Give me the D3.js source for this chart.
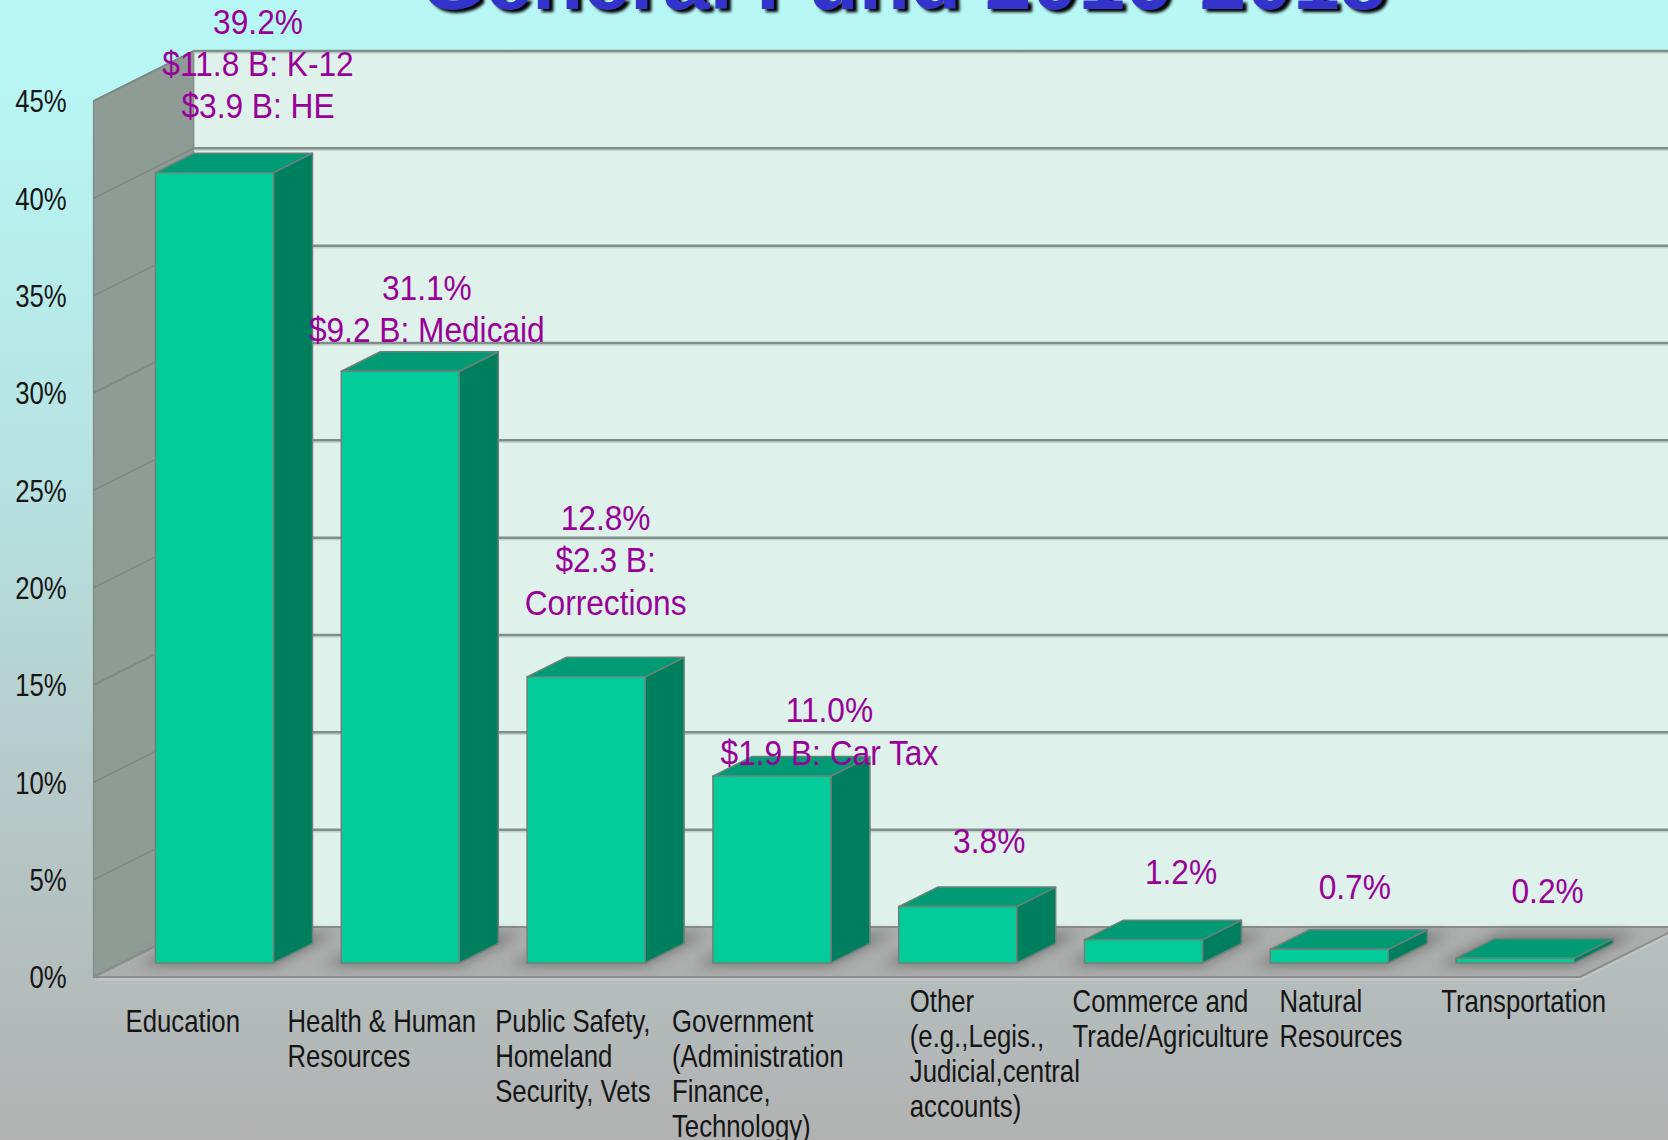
<!DOCTYPE html>
<html>
<head>
<meta charset="utf-8">
<script src="https://cdnjs.cloudflare.com/ajax/libs/d3/7.8.5/d3.min.js"></script>
<style>
  body { margin: 0; background: #b3b3b3; }
  svg { display: block; }
  .narrow { font-family: "Liberation Sans", Arial, sans-serif; }
</style>
</head>
<body>
<div id="chart"></div>
<script>
// chart values
var title = "General Fund 2016-2018";
var categories = ["Education", "Health & Human Resources", "Public Safety", "Government",
  "Other", "Commerce and Trade/Agriculture", "Natural Resources", "Transportation"];
var catLabelLines = [
  ["Education"],
  ["Health & Human", "Resources"],
  ["Public Safety,", "Homeland", "Security, Vets"],
  ["Government", "(Administration", "Finance,", "Technology)"],
  ["Other", "(e.g.,Legis.,", "Judicial,central", "accounts)"],
  ["Commerce and", "Trade/Agriculture"],
  ["Natural", "Resources"],
  ["Transportation"]
];
// bar heights (percent of general fund)
var shares = [40.6, 30.4, 14.7, 9.6, 2.9, 1.2, 0.7, 0.25];
// typed annotations above the bars
var valueLabels = [
  ["39.2%", "$11.8 B: K-12", "$3.9 B: HE"],
  ["31.1%", "$9.2 B: Medicaid"],
  ["12.8%", "$2.3 B:", "Corrections"],
  ["11.0%", "$1.9 B: Car Tax"],
  ["3.8%"],
  ["1.2%"],
  ["0.7%"],
  ["0.2%"]
];
var yTicks = [0, 5, 10, 15, 20, 25, 30, 35, 40, 45];

// layout: hand placed annotation nudges (dx, dy of last line from bar top)
var labelNudge = [[24, -57], [7, -32], [0, -65], [38, -14], [12, -56], [18, -58], [6, -53], [13, -58]];
var catNudge = [[32, 0], [8, 0], [30, 0], [21, 0], [73, -20], [50, -20], [71, -20], [47, -20]];

var W = 1668, H = 1140;
var DX = 100, DY = -50;       // full depth of the 3d box
var f0 = 0.28, f1 = 0.67;     // bar front / back depth
var SX = 0.83;                // condensed look of the slide font
var SXV = 0.88;               // value labels are a bit wider

var svg = d3.select("#chart").append("svg").attr("width", W).attr("height", H);
var defs = svg.append("defs");

var bg = defs.append("linearGradient").attr("id", "bg").attr("x1", 0).attr("y1", 0).attr("x2", 0).attr("y2", 1);
[[0, "#b7f8f6"], [0.08, "#b7f6f4"], [0.45, "#b6e0df"], [0.7, "#b6c9c8"], [1, "#b2b2b2"]].forEach(function (s) {
  bg.append("stop").attr("offset", s[0]).attr("stop-color", s[1]);
});
defs.append("filter").attr("id", "blur").attr("x", "-30%").attr("y", "-30%").attr("width", "160%").attr("height", "160%")
  .append("feGaussianBlur").attr("stdDeviation", 7);
defs.append("filter").attr("id", "tblur")
  .append("feGaussianBlur").attr("stdDeviation", 1.5);

svg.append("rect").attr("width", W).attr("height", H).attr("fill", "url(#bg)");

var x = d3.scaleBand().domain(categories).range([93.6, 1580]).paddingInner(0.365).paddingOuter(0.1825);
var y = d3.scaleLinear().domain([0, 45]).range([977, 101]);
var x0 = x.range()[0], x1 = x.range()[1];

function P(px, py, d) { return [px + DX * d, py + DY * d]; }
function poly(pts) { return pts.map(function (p) { return p.join(","); }).join(" "); }

// back wall
svg.append("polygon")
  .attr("points", poly([P(x0, y(45), 1), [W + 10, y(45) + DY], [W + 10, y(0) + DY], P(x0, y(0), 1)]))
  .attr("fill", "#def2eb");

// side wall
svg.append("polygon")
  .attr("points", poly([[x0, y(45)], P(x0, y(45), 1), P(x0, y(0), 1), [x0, y(0)]]))
  .attr("fill", "#8f9b95").attr("stroke", "#818d87").attr("stroke-width", 1.5);

// gridlines
var grid = yTicks.filter(function (t) { return t > 0; });
svg.append("g").selectAll("line").data(grid).join("line")
  .attr("x1", x0 + DX).attr("x2", W + 10)
  .attr("y1", function (d) { return y(d) + DY + 2; }).attr("y2", function (d) { return y(d) + DY + 2; })
  .attr("stroke", "#c5d3ce").attr("stroke-width", 1.5);
svg.append("g").selectAll("line").data(grid).join("line")
  .attr("x1", x0 + DX).attr("x2", W + 10)
  .attr("y1", function (d) { return y(d) + DY; }).attr("y2", function (d) { return y(d) + DY; })
  .attr("stroke", "#7f8e89").attr("stroke-width", 2.5);
svg.append("g").selectAll("line").data(grid).join("line")
  .attr("x1", x0).attr("x2", x0 + DX)
  .attr("y1", function (d) { return y(d); }).attr("y2", function (d) { return y(d) + DY; })
  .attr("stroke", "#7c8983").attr("stroke-width", 1.5);

// floor
svg.append("polygon")
  .attr("points", poly([[x0, y(0) + 4], [x1, y(0) + 4], P(x1, y(0) + 4, 1), P(x0, y(0) + 4, 1)]))
  .attr("fill", "#c2c4c3");
svg.append("polygon")
  .attr("points", poly([[x0, y(0)], [x1, y(0)], P(x1, y(0), 1), P(x0, y(0), 1)]))
  .attr("fill", "#adafae").attr("stroke", "#8b8d8c").attr("stroke-width", 2);

var bw = x.bandwidth();
var bars = categories.map(function (c, i) { return { c: c, v: shares[i], i: i }; });

// soft shadows on the floor
svg.append("g").attr("filter", "url(#blur)").selectAll("polygon").data(bars).join("polygon")
  .attr("points", function (d) {
    var l = x(d.c) - 14, r = x(d.c) + bw + 4, b = y(0);
    return poly([P(l, b, f0 - 0.05), P(r, b, f0 - 0.05), P(r, b, f1 + 0.2), P(l, b, f1 + 0.2)]);
  })
  .attr("fill", "#4e5150").attr("opacity", 0.6);

// bars
var g = svg.append("g").selectAll("g").data(bars).join("g");
var edge = "#6d8179";
g.append("polygon").attr("points", function (d) {
  var l = x(d.c), r = l + bw, t = y(d.v);
  return poly([P(r, t, f0), P(r, t, f1), P(r, y(0), f1), P(r, y(0), f0)]);
}).attr("fill", "#007f5f").attr("stroke", edge).attr("stroke-width", 1.5).attr("stroke-linejoin", "round");
g.append("polygon").attr("points", function (d) {
  var l = x(d.c), r = l + bw, t = y(d.v);
  return poly([P(l, t, f0), P(r, t, f0), P(r, t, f1), P(l, t, f1)]);
}).attr("fill", "#009b74").attr("stroke", edge).attr("stroke-width", 1.5).attr("stroke-linejoin", "round");
g.append("polygon").attr("points", function (d) {
  var l = x(d.c), r = l + bw, t = y(d.v);
  return poly([P(l, t, f0), P(r, t, f0), P(r, y(0), f0), P(l, y(0), f0)]);
}).attr("fill", "#02cd9a").attr("stroke", edge).attr("stroke-width", 1.5).attr("stroke-linejoin", "round");

// y axis
var yAxis = svg.append("g").attr("class", "narrow")
  .attr("transform", "translate(" + x0 + ",0)")
  .call(d3.axisLeft(y).tickValues(yTicks).tickSize(0).tickPadding(27).tickFormat(function (d) { return d + "%"; }));
yAxis.select(".domain").remove();
yAxis.selectAll("text").attr("font-size", 31).attr("fill", "#151515").attr("dy", "0.35em")
  .attr("x", -27 / SX).attr("transform", "scale(" + SX + ",1)");

// value annotations
var LH = 42.5;
svg.append("g").attr("class", "narrow").selectAll("g").data(bars).join("g")
  .attr("transform", function (d) {
    var lines = valueLabels[d.i];
    var cx = x(d.c) + bw / 2 + DX * (f0 + f1) / 2 + labelNudge[d.i][0];
    var cy = y(d.v) + DY * (f0 + f1) / 2 + labelNudge[d.i][1] - (lines.length - 1) * LH;
    return "translate(" + cx + "," + cy + ") scale(" + SXV + ",1)";
  })
  .append("text")
  .attr("text-anchor", "middle").attr("font-size", 36).attr("fill", "#990099")
  .each(function (d) {
    d3.select(this).selectAll("tspan").data(valueLabels[d.i]).join("tspan")
      .attr("x", 0).attr("y", function (s, k) { return k * LH; })
      .attr("dy", "0.35em").text(function (s) { return s; });
  });

// category labels
var CLH = 35;
svg.append("g").attr("class", "narrow").selectAll("g").data(bars).join("g")
  .attr("transform", function (d) {
    var lx = x0 + x.step() * d.i + catNudge[d.i][0];
    var ly = 1021 + catNudge[d.i][1];
    return "translate(" + lx + "," + ly + ") scale(" + SX + ",1)";
  })
  .append("text")
  .attr("font-size", 31).attr("fill", "#151515")
  .each(function (d) {
    d3.select(this).selectAll("tspan").data(catLabelLines[d.i]).join("tspan")
      .attr("x", 0).attr("y", function (s, k) { return k * CLH; })
      .attr("dy", "0.35em").text(function (s) { return s; });
  });

// title, cut off at the top like the slide
svg.append("text").attr("x", 424).attr("y", 12).attr("font-family", "Liberation Sans, Arial, sans-serif")
  .attr("font-weight", "bold").attr("font-size", 84).attr("fill", "#000").attr("filter", "url(#tblur)")
  .text(title);
svg.append("text").attr("x", 420).attr("y", 9).attr("font-family", "Liberation Sans, Arial, sans-serif")
  .attr("font-weight", "bold").attr("font-size", 84).attr("fill", "#3333cc")
  .text(title);
</script>
</body>
</html>
